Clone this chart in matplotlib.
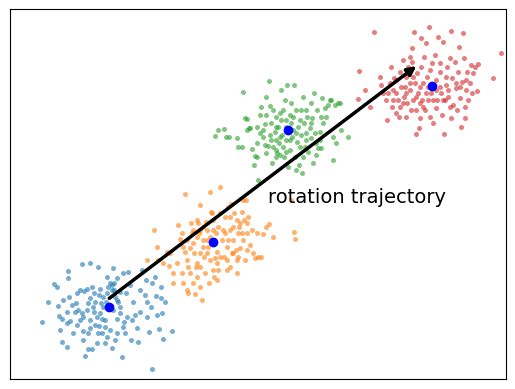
import matplotlib
matplotlib.use("Agg")
import matplotlib.pyplot as plt
import numpy as np

# point positions (x right, y down, image units)
blue_pts = [(127,967),(145,907),(163,853),(170,860),(187,1027),(202,1042),(205,812),(205,835),(206,891),(175,918),
            (178,948),(185,957),(181,991),(201,970),(210,962),(215,915),(220,1000),(228,908),(235,930),(245,792),
            (245,939),(250,993),(256,1069),(263,1047),(265,1000),(271,790),(276,1047),(253,872),(262,868),(270,895),
            (281,935),(283,880),(290,951),(291,1030),(293,1000),(295,800),(296,978),(300,868),(302,910),(305,957),
            (306,1000),(314,960),(316,980),(320,832),(322,1011),(330,850),(335,856),(340,805),(342,870),(343,850),
            (345,1020),(350,958),(352,835),(352,900),(355,905),(360,920),(366,1070),(370,820),(373,965),(376,1000),
            (378,880),(385,815),(390,855),(392,1020),(400,907),(405,945),(412,984),(415,1027),(420,870),(425,810),
            (435,885),(437,840),(440,905),(447,995),(453,920),(457,1108),(467,887),(472,945),(477,987),(483,862),
            (483,893),(487,940),(490,1018),(495,907),(517,992),(230,880),(240,870),(250,950),(260,930),(275,860),
            (285,905),(310,890),(320,880),(330,920),(338,930),(345,890),(360,875),(300,940),(310,920),(318,905),
            (280,920),(265,910),(298,885),(335,870),(325,860),(360,940),(240,960),(225,935),(285,975),(270,960),
            (330,990),(350,1000),(270,985),(395,960),(420,935),(440,950),(455,850),(465,830),(370,980),(380,950),
            (315,1030),(335,1045),(250,1020),(230,975),(200,935),(190,900)]
orange_pts = [(463,690),(470,740),(473,780),(440,780),(488,790),(507,797),(500,755),(510,760),(520,820),(530,790),
              (535,675),(540,718),(545,700),(548,848),(555,583),(555,755),(560,870),(565,880),(563,800),(570,745),
              (572,668),(575,700),(578,690),(583,760),(585,883),(588,800),(590,830),(595,668),(598,700),(600,615),
              (600,760),(605,900),(608,720),(612,770),(615,820),(617,665),(620,690),(625,740),(627,850),(630,575),
              (632,635),(635,640),(640,660),(643,830),(645,775),(648,700),(652,755),(655,810),(660,560),(665,720),
              (670,690),(672,770),(675,650),(680,740),(683,620),(690,690),(693,612),(695,760),(700,680),(703,640),
              (707,750),(710,660),(712,820),(715,700),(718,680),(720,745),(725,635),(728,600),(730,720),(733,660),
              (735,780),(738,600),(740,700),(742,750),(745,650),(750,735),(755,690),(758,760),(765,775),(770,700),
              (775,770),(785,770),(790,703),(800,680),(808,672),(820,710),(883,697),(885,718),(875,600),(550,740),
              (560,720),(580,730),(590,710),(600,690),(610,740),(620,760),(630,780),(650,790),(660,770),(680,780),
              (690,800),(700,760),(715,770),(600,800),(570,820),(640,690),(655,680),(675,700),(685,720),(700,720),
              (720,670),(660,640),(610,680),(590,660),(545,820),(520,850),(580,850),(600,860),(650,840),(725,700),
              (740,670),(620,720),(630,710),(690,650),(710,780),(680,810),(640,810),(560,780),(590,790)]
green_pts = [(645,408),(655,390),(672,388),(678,410),(687,412),(712,414),(715,440),(725,440),(728,275),(735,355),
             (740,390),(742,358),(746,385),(750,383),(755,448),(762,494),(765,468),(770,380),(772,430),(775,540),
             (780,400),(782,345),(785,320),(790,410),(795,372),(798,460),(800,290),(805,438),(808,243),(810,318),
             (815,420),(818,490),(820,330),(825,395),(828,450),(830,350),(832,460),(835,380),(838,430),(840,465),
             (842,340),(845,270),(848,405),(850,330),(852,470),(855,300),(858,360),(860,420),(862,255),(865,500),
             (870,345),(872,450),(875,310),(878,410),(880,350),(883,255),(885,470),(888,330),(890,510),(893,425),
             (895,380),(898,495),(900,360),(903,330),(905,405),(908,520),(910,290),(912,370),(915,440),(918,330),
             (920,400),(923,350),(925,455),(930,385),(933,310),(935,415),(938,355),(940,490),(942,280),(945,400),
             (948,430),(952,330),(955,445),(960,395),(963,350),(965,445),(968,295),(970,370),(975,325),(980,350),
             (985,315),(990,300),(995,300),(1000,410),(1005,315),(1010,430),(1015,310),(1020,310),(1025,390),(1045,412),
             (1000,480),(770,470),(795,435),(810,405),(820,440),(830,420),(850,440),(870,420),(880,390),(900,440),
             (920,420),(935,370),(860,380),(840,410),(815,370),(800,345),(845,360),(875,370),(890,400),(830,470),
             (860,455),(910,470),(950,465),(960,420),(830,380),(790,390)]
red_pts = [(1078,213),(1075,298),(1096,270),(1112,320),(1123,97),(1140,232),(1145,255),(1150,280),(1160,300),(1163,360),
           (1165,280),(1170,250),(1175,200),(1178,320),(1180,270),(1183,235),(1188,280),(1190,340),(1195,300),(1198,350),
           (1200,215),(1205,260),(1210,180),(1213,290),(1218,350),(1220,230),(1223,310),(1226,200),(1230,270),(1233,330),
           (1236,145),(1238,185),(1240,300),(1243,95),(1245,250),(1248,403),(1250,330),(1253,220),(1255,280),(1258,385),
           (1260,355),(1263,200),(1265,113),(1268,300),(1270,250),(1273,170),(1276,330),(1280,130),(1283,230),(1286,300),
           (1288,82),(1290,350),(1293,280),(1296,190),(1300,370),(1305,165),(1308,240),(1310,325),(1313,300),(1316,110),
           (1320,215),(1323,280),(1326,345),(1330,125),(1333,403),(1336,300),(1340,255),(1343,200),(1346,290),(1350,175),
           (1353,93),(1355,355),(1358,235),(1360,315),(1365,185),(1368,265),(1372,330),(1375,215),(1378,140),(1380,295),
           (1385,382),(1388,245),(1390,100),(1392,175),(1395,355),(1400,270),(1403,215),(1405,300),(1410,250),(1413,195),
           (1418,280),(1420,220),(1425,200),(1432,272),(1435,192),(1480,235),(1505,160),(1210,310),(1230,250),(1260,260),
           (1280,280),(1300,300),(1320,260),(1340,230),(1370,250),(1250,290),(1270,320),(1310,270),(1330,300),(1350,320),
           (1380,260),(1190,240),(1215,260),(1240,230),(1290,210),(1320,190),(1260,310),(1220,280),(1180,300),(1200,320),
           (1285,260),(1345,270),(1400,240),(1395,320),(1230,170)]

centers_x = [328, 640, 865, 1297]
centers_y = [921, 727, 390, 259]

arrow_start = (328, 895)
arrow_end = (1250, 198)

fig = plt.figure(figsize=(5.15, 3.89), dpi=100)
ax = fig.add_axes([10/515, 10/389, 496/515, 370/389])

for pts, col in zip([blue_pts, orange_pts, green_pts, red_pts],
                    ['tab:blue', 'tab:orange', 'tab:green', 'tab:red']):
    p = np.array(pts)
    ax.scatter(p[:, 0], p[:, 1], s=13, color=col, alpha=0.6, linewidths=0)

ax.plot(centers_x, centers_y, 'bo', linestyle='none', zorder=4)

ax.annotate('', xy=arrow_end, xytext=arrow_start,
            arrowprops=dict(arrowstyle='-|>', color='k', lw=2.5, mutation_scale=13,
                            shrinkA=0, shrinkB=0), zorder=3)
ax.text(805, 593, 'rotation trajectory', fontsize=14, va='center', ha='left')

ax.set_xlim(30, 1519)
ax.set_ylim(1137, 27)
ax.set_xticks([])
ax.set_yticks([])

plt.savefig('out.png', dpi=100)
